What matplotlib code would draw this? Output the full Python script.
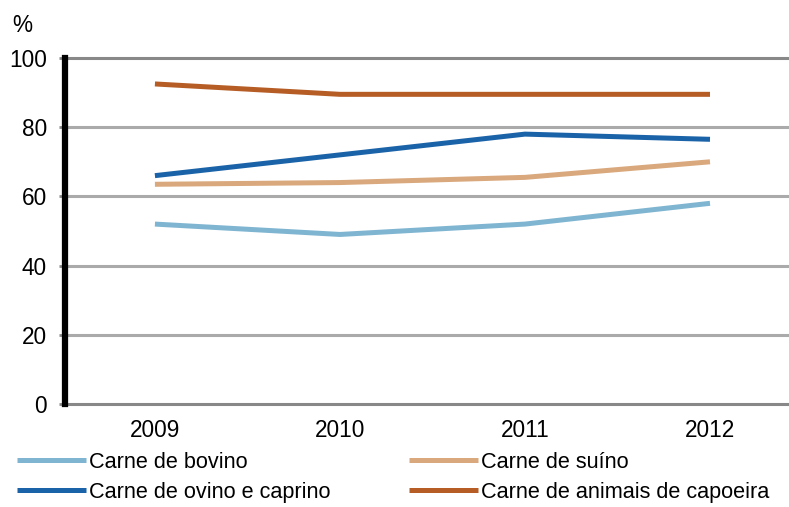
import matplotlib
matplotlib.use("Agg")
import matplotlib.pyplot as plt

years = ["2009", "2010", "2011", "2012"]
bovino = [52, 49, 52, 58]
suino = [63.5, 64, 65.5, 70]
ovino = [66, 72, 78, 76.5]
capoeira = [92.5, 89.5, 89.5, 89.5]
labels = ["Carne de bovino", "Carne de suíno", "Carne de ovino e caprino",
          "Carne de animais de capoeira"]
colors = ["#7fb5d1", "#d9a87c", "#1b63a8", "#b65d26"]
yticks = [0, 20, 40, 60, 80, 100]

plt.rcParams['font.family'] = ['Liberation Sans', 'DejaVu Sans']
FS = 16.3
LFS = 15.6

W, H = 789, 507
fig = plt.figure(figsize=(W / 100, H / 100), dpi=100)
ax = fig.add_axes([65 / W, 1 - 404 / H, (W - 65) / W, (404 - 58) / H])

x = list(range(len(years)))
series = [bovino, suino, ovino, capoeira]
handles = []
for vals, lab, col in zip(series, labels, colors):
    h, = ax.plot(x, vals, color=col, lw=3.6, label=lab, solid_capstyle='butt', zorder=3)
    handles.append(h)

ax.set_xlim(-0.486, 3.427)
ax.set_ylim(0, 100)
ax.set_xticks(x)
ax.set_xticklabels(years, fontsize=FS)
ax.set_yticks(yticks)
ax.set_yticklabels([str(v) for v in yticks], fontsize=FS)
ax.tick_params(axis='x', length=0, pad=11)
ax.tick_params(axis='y', length=4, width=2, color='#888888', pad=9)

for v in yticks:
    c = '#888888' if v in (0, 100) else '#aaaaaa'
    ax.axhline(v, color=c, lw=2.2, zorder=1, clip_on=False)

for s in ['top', 'right', 'bottom']:
    ax.spines[s].set_visible(False)
ax.spines['left'].set_color('black')
ax.spines['left'].set_linewidth(4.5)
ax.spines['left'].set_zorder(4)

fig.text(12 / W, 1 - 25 / H, "%", fontsize=FS, va='center', ha='left')

order = [handles[0], handles[2], handles[1], handles[3]]
leg = fig.legend(order, [h.get_label() for h in order], ncol=2, frameon=False,
                 fontsize=LFS, loc='upper left', bbox_to_anchor=(17 / W, 1 - 452 / H),
                 handlelength=3.2, handletextpad=0.14, columnspacing=3.6,
                 labelspacing=0.4, borderaxespad=0, borderpad=0)

fig.savefig("out.png", dpi=100)
